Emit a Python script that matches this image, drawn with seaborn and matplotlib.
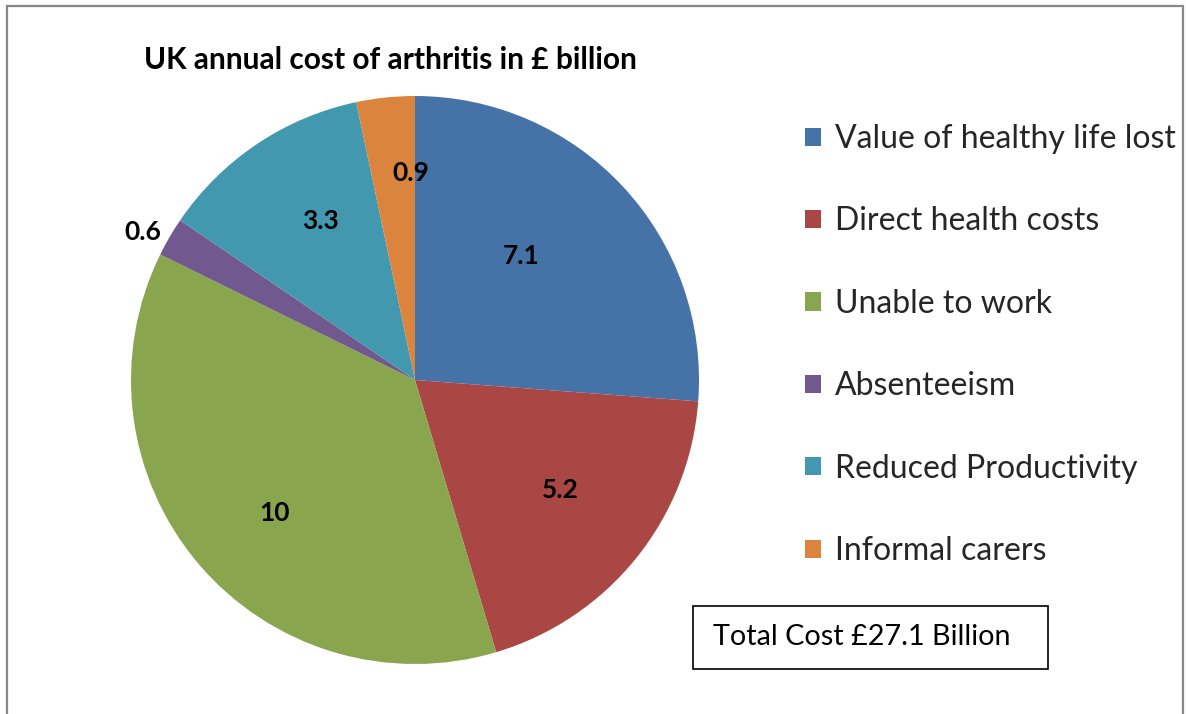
import numpy as np
import matplotlib
matplotlib.use("Agg")
import matplotlib.pyplot as plt
import matplotlib.patches as mpatches
import seaborn as sns

categories = ["Value of healthy life lost", "Direct health costs", "Unable to work",
              "Absenteeism", "Reduced Productivity", "Informal carers"]
values = [7.1, 5.2, 10, 0.6, 3.3, 0.9]
value_labels = ["7.1", "5.2", "10", "0.6", "3.3", "0.9"]
colors = ["#4572A7", "#AA4643", "#89A54E", "#71588F", "#4198AF", "#DB843D"]
title = "UK annual cost of arthritis in £ billion"
total_text = "Total Cost £27.1 Billion"

sns.set_theme(style="white")
plt.rcParams["font.family"] = ["Lato", "DejaVu Sans"]

W, H = 1186, 714
fig = plt.figure(figsize=(W / 100, H / 100), dpi=100)

# outer chart frame
fig.patches.append(mpatches.Rectangle((7 / W, -0.01), (1183 - 7) / W, 1.01 - 6 / H,
                                      transform=fig.transFigure, fill=False,
                                      edgecolor="#878787", linewidth=1.6))

# pie axes: square box centred on the pie
cx, cy, r = 415, 380, 284
ax = fig.add_axes([(cx - r) / W, (H - cy - r) / H, 2 * r / W, 2 * r / H])
wedges, _ = ax.pie(values, colors=colors, startangle=90, counterclock=False,
                   radius=1.0, wedgeprops=dict(linewidth=0))
ax.set_xlim(-1, 1)
ax.set_ylim(-1, 1)
ax.set_aspect("equal")
ax.axis("off")

# value labels placed near each wedge's bisector
label_dist = [0.575, 0.64, 0.68, 1.09, 0.65, 0.73]
label_turn = [6.7, 1.8, 3.3, 1.6, -3.2, -4.9]
for w, txt, d, t in zip(wedges, value_labels, label_dist, label_turn):
    ang = np.deg2rad((w.theta1 + w.theta2) / 2 + t)
    ax.text(d * np.cos(ang), d * np.sin(ang), txt, ha="center", va="center",
            fontsize=19, fontweight="bold", color="black")

fig.text(390 / W, 1 - 60 / H, title, ha="center", va="center",
         fontsize=21.5, fontweight="bold", color="black")

leg = fig.legend(wedges, categories, loc="upper left",
                 bbox_to_anchor=(805 / W, 1 - 124 / H), frameon=False,
                 fontsize=23, handlelength=0.5, handleheight=0.5,
                 handletextpad=0.45, labelspacing=1.64, borderaxespad=0,
                 borderpad=0)

# total cost box
fig.patches.append(mpatches.Rectangle((693 / W, 1 - 669 / H), (1048 - 693) / W, 63 / H,
                                      transform=fig.transFigure, fill=False,
                                      edgecolor="black", linewidth=1.2))
fig.text(713 / W, 1 - 637 / H, total_text, ha="left", va="center",
         fontsize=20.7, color="black")

fig.savefig("out.png", dpi=100)
